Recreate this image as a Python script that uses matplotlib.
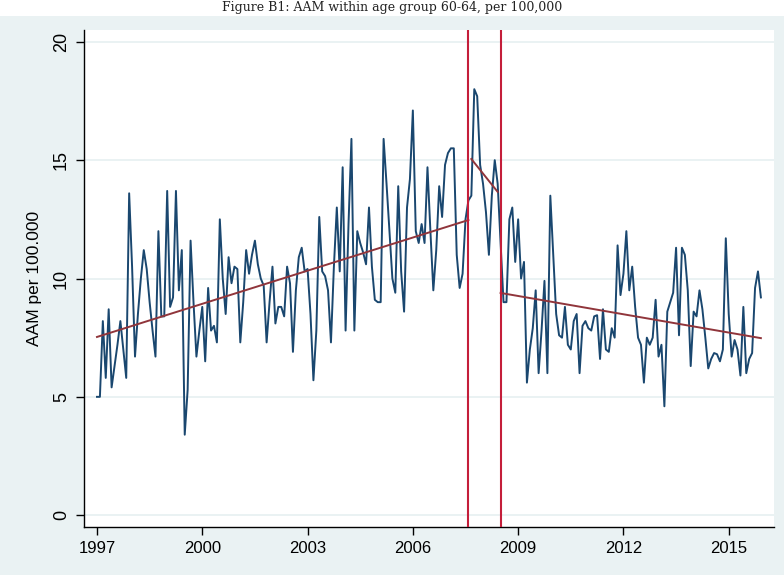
import numpy as np
import matplotlib
matplotlib.use("Agg")
import matplotlib.pyplot as plt

# Monthly AAM rate per 100,000, age group 60-64, Jan 1997 - Dec 2015
start_year = 1997
aam_rate = [
    5.0, 5.0, 8.2, 5.8, 8.7, 5.4, 6.3, 7.2, 8.2, 7.0, 5.8, 13.6,
    10.5, 6.7, 8.5, 10.0, 11.2, 10.4, 9.0, 7.8, 6.7, 12.0, 8.4, 8.4,
    13.7, 8.8, 9.2, 13.7, 9.5, 11.2, 3.4, 5.3, 11.6, 9.0, 6.7, 7.8,
    8.8, 6.5, 9.6, 7.8, 8.0, 7.3, 12.5, 10.0, 8.5, 10.9, 9.8, 10.5,
    10.4, 7.3, 9.0, 11.2, 10.2, 11.0, 11.6, 10.6, 10.0, 9.7, 7.3, 9.0,
    10.5, 8.1, 8.8, 8.8, 8.4, 10.5, 9.8, 6.9, 9.5, 10.9, 11.3, 10.3,
    10.4, 8.5, 5.7, 7.8, 12.6, 10.3, 10.1, 9.5, 7.3, 10.5, 13.0, 10.3,
    14.7, 7.8, 12.3, 15.9, 7.8, 12.0, 11.5, 11.1, 10.6, 13.0, 10.5, 9.1,
    9.0, 9.0, 15.9, 14.0, 12.0, 10.0, 9.4, 13.9, 10.3, 8.6, 13.0, 14.2,
    17.1, 12.0, 11.5, 12.3, 11.5, 14.7, 12.0, 9.5, 11.2, 13.9, 12.6, 14.8,
    15.3, 15.5, 15.5, 11.0, 9.6, 10.2, 12.5, 13.3, 13.5, 18.0, 17.7, 14.8,
    14.0, 12.8, 11.0, 13.5, 15.0, 14.0, 11.5, 9.0, 9.0, 12.5, 13.0, 10.7,
    12.5, 10.0, 10.7, 5.6, 7.0, 7.9, 9.5, 6.0, 7.8, 9.9, 6.0, 13.5,
    11.0, 8.5, 7.6, 7.5, 8.8, 7.2, 7.0, 8.2, 8.5, 6.0, 8.0, 8.2,
    7.9, 7.8, 8.4, 8.45, 6.6, 8.7, 7.0, 6.9, 7.9, 7.5, 11.4, 9.3,
    10.2, 12.0, 9.5, 10.5, 8.8, 7.5, 7.2, 5.6, 7.5, 7.2, 7.5, 9.1,
    6.7, 7.2, 4.6, 8.6, 9.0, 9.4, 11.3, 7.6, 11.3, 11.0, 9.5, 6.3,
    8.6, 8.4, 9.5, 8.7, 7.5, 6.2, 6.6, 6.85, 6.8, 6.5, 7.0, 11.7,
    8.5, 6.7, 7.4, 7.0, 5.9, 8.8, 6.0, 6.6, 6.85, 9.6, 10.3, 9.2,
]

# break dates (decimal years) and linear trend per segment: (start, end, value at start, value at end)
breaks = [2007 + 7 / 12, 2008.5]
trend_segments = [
    (1997.0, 2007 + 7 / 12, 7.53, 12.47),
    (2007 + 8 / 12, 2008 + 5 / 12, 15.05, 13.66),
    (2008.5, 2015 + 11 / 12, 9.39, 7.48),
]

year_ticks = [1997, 2000, 2003, 2006, 2009, 2012, 2015]
rate_ticks = [0, 5, 10, 15, 20]

bg = "#eaf2f3"
navy = "#1a476f"
maroon = "#90353b"
vline_red = "#c41e3a"

t = start_year + np.arange(len(aam_rate)) / 12

fig = plt.figure(figsize=(7.84, 5.75), dpi=100, facecolor=bg)
# white strip holding the figure caption at the very top
strip_h = 16 / 575
fig.patches.append(plt.Rectangle((0, 1 - strip_h), 1, strip_h, transform=fig.transFigure,
                                 facecolor="white", edgecolor="none", zorder=0))
fig.text(0.5, 1 - 8 / 575, "Figure B1: AAM within age group 60-64, per 100,000",
         ha="center", va="center", fontsize=9, family="DejaVu Serif", color="#222222")

ax = fig.add_axes([84 / 784, 1 - 527 / 575, 690 / 784, 497 / 575])
ax.set_facecolor("white")

for y in rate_ticks:
    ax.axhline(y, color=bg, lw=1.4, zorder=1)

ax.plot(t, aam_rate, color=navy, lw=1.4, zorder=3)

for x0, x1, y0, y1 in trend_segments:
    ax.plot([x0, x1], [y0, y1], color=maroon, lw=1.4, zorder=4)

for b in breaks:
    ax.axvline(b, color=vline_red, lw=1.5, zorder=5)

ax.set_xlim(1996.63, 2016.29)
ax.set_ylim(-0.5, 20.5)
ax.set_xticks(year_ticks)
ax.set_yticks(rate_ticks)
ax.set_yticklabels([str(v) for v in rate_ticks], rotation=90, va="center")
ax.set_ylabel("AAM per 100.000", fontsize=12.5, family="Liberation Sans", labelpad=8)

for lab in ax.get_xticklabels():
    lab.set_family("Liberation Sans")
    lab.set_fontsize(12)
for lab in ax.get_yticklabels():
    lab.set_family("Liberation Sans")
    lab.set_fontsize(13)

ax.tick_params(axis="both", direction="out", length=6, width=1, color="black", pad=4)
ax.spines["top"].set_visible(False)
ax.spines["right"].set_visible(False)
for s in ("left", "bottom"):
    ax.spines[s].set_linewidth(1)
    ax.spines[s].set_color("black")

fig.savefig("out.png", dpi=100, facecolor=bg)
